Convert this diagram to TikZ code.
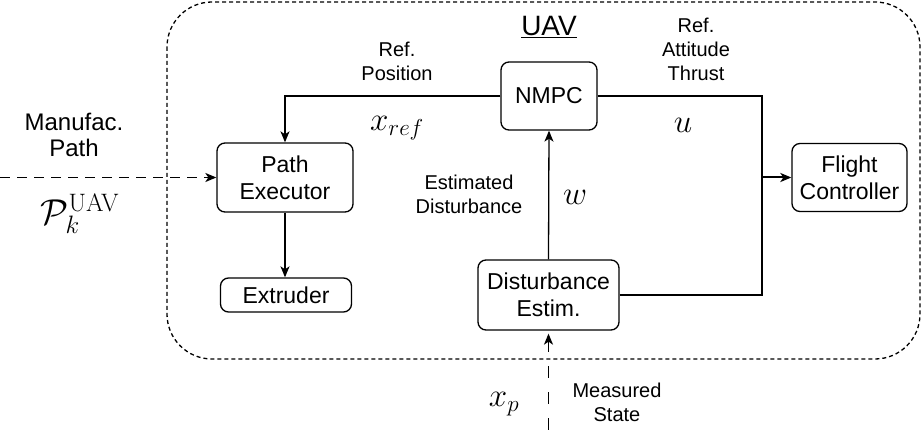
\documentclass[tikz,border=0pt]{standalone}
\usepackage{fix-cm}
\usepackage[no-math]{fontspec}
\setmainfont{Liberation Sans}
\usetikzlibrary{arrows.meta}

\newcommand{\boxfont}{\fontsize{23}{27}\selectfont}
\newcommand{\lblfont}{\fontsize{20}{24}\selectfont}
\newcommand{\symfont}{\fontsize{33}{35}\selectfont}

\tikzset{
  block/.style={draw, rounded corners=8pt, line width=1.3pt, align=center, font=\boxfont, inner sep=0pt},
  lbl/.style={align=center, font=\lblfont, inner sep=0pt},
  sym/.style={font=\symfont, inner sep=0pt},
  conn/.style={line width=1.3pt, -{Stealth[length=11pt,width=9pt,inset=3pt]}}
}

\begin{document}
\begin{tikzpicture}[x=1pt,y=1pt]
\useasboundingbox (0,0) rectangle (922,-430);

% UAV boundary
\draw[line width=1.3pt, dash pattern=on 4pt off 3pt, rounded corners=45pt] (167,-2) rectangle (920,-359);
\node[font=\fontsize{28}{30}\selectfont, inner sep=0pt] (uav) at (549,-27) {\underline{UAV}};

% Blocks
\node[block, minimum width=96pt, minimum height=68pt] (nmpc) at (549,-96) {NMPC};
\node[block, minimum width=136pt, minimum height=69pt] (exec) at (285,-177.5) {Path\\Executor};
\node[block, minimum width=131pt, minimum height=34pt] (extr) at (286,-295) {Extruder};
\node[block, minimum width=115pt, minimum height=68pt] (fc) at (849.5,-177.5) {Flight\\Controller};
\node[block, minimum width=141pt, minimum height=70pt] (dist) at (548.5,-295) {Disturbance\\Estim.};

% Free ends and junction
\coordinate (src) at (0,-177.5);
\coordinate (sensor) at (548.5,-430);
\coordinate (split) at (762,-177.5);

% Connectors
\draw[conn, dash pattern=on 10pt off 7pt] (src) -- (exec.west); % manufacturing path in
\draw[conn] (nmpc.west) -| (exec.north); % reference position
\draw[conn] (exec.south) -- (exec.south |- extr.north);
\draw[conn, line width=2pt] (nmpc.east) -| (split) -- (fc.west); % attitude and thrust
\draw[line width=1.3pt] (dist.east) -| (split);
\draw[conn] (dist.north) -- (nmpc.south); % disturbance estimate
\draw[conn, dash pattern=on 12pt off 14pt, shorten >=3pt] (sensor) -- (dist.south); % measured state

% Labels
\node[font=\fontsize{24}{26}\selectfont, align=center, inner sep=0pt] (manuf) at (74,-135) {Manufac.\\Path};
\node[font=\fontsize{36}{38}\selectfont, inner sep=0pt] (pk) at (80,-214) {$\mathcal{P}_k^{\mathrm{UAV}}$};
\node[lbl] (refpos) at (397,-61.5) {Ref.\\Position};
\node[sym] (xref) at (397,-128) {$x_{ref}$};
\node[lbl] (refatt) at (696,-49) {Ref.\\Attitude\\Thrust};
\node[sym] (u) at (683,-125) {$u$};
\node[lbl] (estd) at (469,-194.5) {Estimated\\Disturbance};
\node[sym] (w) at (575,-197) {$w$};
\node[sym] (xp) at (504,-404) {$x_p$};
\node[lbl] (measlbl) at (617,-402) {Measured\\State};

\end{tikzpicture}
\end{document}
